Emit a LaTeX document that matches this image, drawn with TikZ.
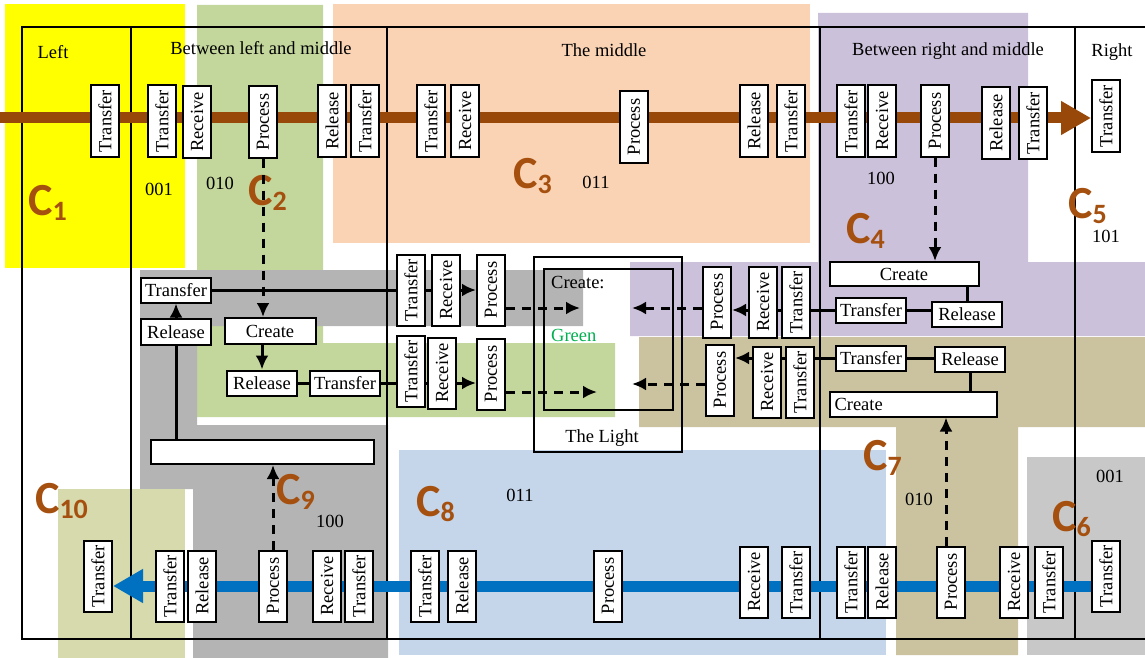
\documentclass[tikz,border=0pt]{standalone}
\usepackage{graphicx}
\usepackage{fontspec}
\setmainfont{Liberation Serif}
\newfontfamily\cfont{Carlito}
\usetikzlibrary{arrows.meta}
\pgfdeclarelayer{bg}
\pgfdeclarelayer{flow}
\pgfsetlayers{bg,flow,main}
\definecolor{cbrown}{RGB}{165,80,15}
\definecolor{flowbrown}{RGB}{152,72,8}
\definecolor{flowblue}{RGB}{0,112,192}
\definecolor{cyel}{RGB}{255,255,0}
\definecolor{cgreen}{RGB}{195,214,155}
\definecolor{cpeach}{RGB}{250,211,180}
\definecolor{cpurple}{RGB}{204,193,218}
\definecolor{ckhaki}{RGB}{203,195,160}
\definecolor{cblue}{RGB}{197,213,234}
\definecolor{cgrayd}{RGB}{180,180,180}
\definecolor{cgrayl}{RGB}{200,200,200}
\definecolor{colive}{RGB}{214,218,172}
\definecolor{lgreen}{RGB}{0,176,80}
\newcommand{\upword}[1]{\rotatebox{90}{#1}}
\newcommand{\cname}[1]{{\cfont\bfseries\fontsize{46}{46}\selectfont C}\raisebox{-5pt}{\cfont\bfseries\fontsize{28}{28}\selectfont #1}}
\begin{document}
\begin{tikzpicture}[x=1pt,y=-1pt,font=\fontsize{18.5}{20}\selectfont]
    \tikzset{vbox/.style={draw,line width=2pt,fill=white,minimum width=28pt,minimum height=71pt,inner sep=0pt},
      hbox/.style={draw,line width=2pt,fill=white,minimum width=70pt,minimum height=25pt,inner sep=1pt},
      conn/.style={line width=3pt},
      arr/.style={conn,-{Latex[length=14pt,width=13pt]}},
      dasharr/.style={arr,dash pattern=on 9pt off 7pt},
      frame/.style={line width=1.6pt},
      clabel/.style={anchor=base west,inner sep=0pt,text=cbrown}}
    \useasboundingbox (0,0) rectangle (1145,658);
    % column titles
    \node (hLeft) at (53,52) {Left};
    \node (hLM) at (261,48) {Between left and middle};
    \node (hMid) at (604,50) {The middle};
    \node (hRM) at (948,51) {Between right and middle};
    \node (hRight) at (1112,52) {Right};
    % upper flow
    \node[vbox] (tTr1) at (105,121) {\upword{Transfer}};
    \node[vbox] (tTr2) at (162,121) {\upword{Transfer}};
    \node[vbox] (tRe2) at (197,122) {\upword{Receive}};
    \node[vbox] (tPr2) at (263,122) {\upword{Process}};
    \node[vbox] (tRl2) at (332,121) {\upword{Release}};
    \node[vbox] (tTr3) at (365,121) {\upword{Transfer}};
    \node[vbox] (tTr4) at (431,121) {\upword{Transfer}};
    \node[vbox] (tRe4) at (465,121) {\upword{Receive}};
    \node[vbox] (tPr4) at (634,127) {\upword{Process}};
    \node[vbox] (tRl4) at (754,121) {\upword{Release}};
    \node[vbox] (tTr5) at (791,121) {\upword{Transfer}};
    \node[vbox] (tTr6) at (851,121) {\upword{Transfer}};
    \node[vbox] (tRe6) at (882,121) {\upword{Receive}};
    \node[vbox] (tPr6) at (935,121) {\upword{Process}};
    \node[vbox] (tRl6) at (996,123) {\upword{Release}};
    \node[vbox] (tTr7) at (1033,123) {\upword{Transfer}};
    \node[vbox] (tTr8) at (1106,116) {\upword{Transfer}};
    % lower flow
    \node[vbox] (bTr1) at (98,576) {\upword{Transfer}};
    \node[vbox] (bTr2) at (170,586) {\upword{Transfer}};
    \node[vbox] (bRl2) at (202,586) {\upword{Release}};
    \node[vbox] (bPr2) at (273,586) {\upword{Process}};
    \node[vbox] (bRe2) at (327,586) {\upword{Receive}};
    \node[vbox] (bTr3) at (359,586) {\upword{Transfer}};
    \node[vbox] (bTr4) at (425,586) {\upword{Transfer}};
    \node[vbox] (bRl4) at (462,586) {\upword{Release}};
    \node[vbox] (bPr4) at (608,586) {\upword{Process}};
    \node[vbox] (bRe5) at (754,582) {\upword{Receive}};
    \node[vbox] (bTr5) at (796,582) {\upword{Transfer}};
    \node[vbox] (bTr6) at (851,582) {\upword{Transfer}};
    \node[vbox] (bRl6) at (882,582) {\upword{Release}};
    \node[vbox] (bPr6) at (951,582) {\upword{Process}};
    \node[vbox] (bRe7) at (1014,582) {\upword{Receive}};
    \node[vbox] (bTr7) at (1049,582) {\upword{Transfer}};
    \node[vbox] (bTr8) at (1106,576) {\upword{Transfer}};
    % left part of the middle
    \node[hbox] (mTrL) at (176,290) {Transfer};
    \node[hbox,minimum height=26pt] (mRlL) at (176,332) {Release};
    \node[hbox,minimum width=91pt,minimum height=26pt] (mCrL) at (270,331) {Create};
    \node[hbox] (mRl2) at (262,383) {Release};
    \node[hbox] (mTr2) at (345,383) {Transfer};
    \node[hbox,minimum width=223pt,minimum height=24pt] (wide) at (262,452) {};
    \node[vbox] (r1Tr) at (411,290) {\upword{Transfer}};
    \node[vbox] (r1Re) at (446,290) {\upword{Receive}};
    \node[vbox] (r1Pr) at (491,290) {\upword{Process}};
    \node[vbox] (r2Tr) at (411,371) {\upword{Transfer}};
    \node[vbox] (r2Re) at (442,373) {\upword{Receive}};
    \node[vbox] (r2Pr) at (491,374) {\upword{Process}};
    % the light
    \node[draw,line width=1.6pt,minimum width=148pt,minimum height=195pt] (light) at (608,354.5) {};
    \node[draw,line width=1.6pt,minimum width=129pt,minimum height=141pt] (lightin) at (608.5,339.5) {};
    \node[anchor=west,inner sep=0pt] (lcreate) at (551,283) {Create:};
    \node[anchor=west,inner sep=0pt,text=lgreen] (lgreen) at (551,335) {Green};
    \node (lname) at (602,438) {The Light};
    \coordinate (lgA) at (580,308);
    \coordinate (lgB) at (597,392);
    \coordinate (lgC) at (632,308);
    \coordinate (lgD) at (632,384);
    % right part of the middle
    \node[vbox] (q1Pr) at (717,302) {\upword{Process}};
    \node[vbox] (q1Re) at (763,302) {\upword{Receive}};
    \node[vbox] (q1Tr) at (796,302) {\upword{Transfer}};
    \node[vbox] (q2Pr) at (720,380) {\upword{Process}};
    \node[vbox] (q2Re) at (767,382) {\upword{Receive}};
    \node[vbox] (q2Tr) at (800,382) {\upword{Transfer}};
    \node[hbox] (hTr1) at (871,310) {Transfer};
    \node[hbox] (hRl1) at (967,314) {Release};
    \node[hbox,minimum width=149pt,minimum height=24pt] (hCr1) at (904,274) {Create};
    \node[hbox] (hTr2) at (871,358) {Transfer};
    \node[hbox] (hRl2) at (970,359) {Release};
    \node[hbox,text width=157pt,align=left,inner xsep=5pt,minimum height=25pt] (hCr2) at (913,404) {Create};
    % numbers
    \node (n001a) at (159,189) {001};
    \node (n010a) at (220,183) {010};
    \node (n011a) at (596,182) {011};
    \node (n100a) at (881,178) {100};
    \node (n101) at (1106,236) {101};
    \node (n011b) at (520,495) {011};
    \node (n100b) at (330,521) {100};
    \node (n010b) at (919,499) {010};
    \node (n001b) at (1110,476) {001};
    % C labels
    \node[clabel] (c1) at (28,215) {\cname{1}};
    \node[clabel] (c2) at (248,205) {\cname{2}};
    \node[clabel] (c3) at (513,188) {\cname{3}};
    \node[clabel] (c4) at (846,243) {\cname{4}};
    \node[clabel] (c5) at (1068,218) {\cname{5}};
    \node[clabel] (c6) at (1052,531) {\cname{6}};
    \node[clabel] (c7) at (863,470) {\cname{7}};
    \node[clabel] (c8) at (416,516) {\cname{8}};
    \node[clabel] (c9) at (276,504) {\cname{9}};
    \node[clabel] (c10) at (35,513) {\cname{10}};
    % links, left
    \draw[arr] (mRlL.north) -- (mRlL.north |- mTrL.south);
    \draw[conn] (mRlL.south) -- (mRlL.south |- wide.north);
    \draw[conn] (mTrL) edge (r1Tr) (r1Tr) edge (r1Re);
    \draw[arr] (r1Re) -- (r1Pr);
    \draw[dasharr] (tPr2.south) -- (tPr2.south |- mCrL.north);
    \draw[arr] (mCrL.south -| mRl2) -- (mRl2.north);
    \draw[conn] (mRl2) -- (mTr2);
    \draw[conn] (mTr2.east) -- (mTr2.east -| r2Tr.west);
    \draw[conn] (r2Tr.east |- mTr2) -- (r2Re.west |- mTr2);
    \draw[arr] (r2Re.east |- mTr2) -- (r2Pr.west |- mTr2);
    \draw[dasharr] (r1Pr.east |- lgA) -- (lgA);
    \draw[dasharr] (r2Pr.east |- lgB) -- (lgB);
    \draw[dasharr] (bPr2.north) -- (bPr2.north |- wide.south);
    % links, right
    \draw[dasharr] (q1Pr.west |- lgC) -- (lgC);
    \draw[dasharr] (q2Pr.west |- lgD) -- (lgD);
    \draw[arr] (q1Re.west |- hTr1) -- (q1Pr.east |- hTr1);
    \draw[conn] (q1Tr.west |- hTr1) -- (q1Re.east |- hTr1);
    \draw[conn] (q1Tr.east |- hTr1) -- (hTr1.west);
    \draw[conn] (hTr1.east) -- (hTr1.east -| hRl1.west);
    \draw[conn] (hRl1.north) -- (hRl1.north |- hCr1.south);
    \draw[dasharr] (tPr6.south) -- (tPr6.south |- hCr1.north);
    \draw[arr] (q2Re.west |- hTr2) -- (q2Pr.east |- hTr2);
    \draw[conn] (q2Tr.west |- hTr2) -- (q2Re.east |- hTr2);
    \draw[conn] (q2Tr.east |- hTr2) -- (hTr2.west);
    \draw[conn] (hTr2.east) -- (hTr2.east -| hRl2.west);
    \draw[conn] (hRl2.south) -- (hRl2.south |- hCr2.north);
    \draw[dasharr] ([xshift=-5pt]bPr6.north) -- ([xshift=-5pt]bPr6.north |- hCr2.south);
    % the two main flows
    \begin{pgfonlayer}{flow}
    \coordinate (topstart) at (0,118);
    \draw[line width=11pt,flowbrown,-{Triangle[length=30pt,width=32pt]}] (topstart) -- (tTr8.west |- topstart);
    \coordinate (botstart) at (1092,586);
    \draw[line width=11pt,flowblue,-{Triangle[length=30pt,width=32pt]}] (botstart) -- (bTr1.east |- botstart);
    \end{pgfonlayer}
    % coloured parts and frame
    \begin{pgfonlayer}{bg}
    \fill[cyel] (5,4) rectangle (185,268);
    \fill[cgreen] (197,5)--(323,5)--(323,343)--(615,343)--(615,417)--(197,417)--cycle;
    \fill[cpeach] (333,4) rectangle (810,243);
    \fill[cpurple] (818,13)--(1028,13)--(1028,262)--(1145,262)--(1145,336)--(630,336)--(630,262)--(818,262)--cycle;
    \fill[ckhaki] (639,337)--(1145,337)--(1145,427)--(1018,427)--(1018,655)--(896,655)--(896,427)--(639,427)--cycle;
    \fill[cblue] (399,450) rectangle (886,655);
    \fill[cgrayl] (1027,457) rectangle (1145,655);
    \fill[cgrayd] (140,270)--(583,270)--(583,326)--(197,326)--(197,425)--(388,425)--(388,658)--(193,658)--(193,489)--(140,489)--cycle;
    \fill[colive] (58,489) rectangle (185,658);
    \draw[frame] (1145,27) -- (22,27) -- (22,639) -- (1145,639);
    \draw[frame] (131,27) -- (131,639);
    \draw[frame] (387,27) -- (387,639);
    \draw[frame] (820,27) -- (820,639);
    \draw[frame] (1075,27) -- (1075,639);
    \end{pgfonlayer}
\end{tikzpicture}
\end{document}
